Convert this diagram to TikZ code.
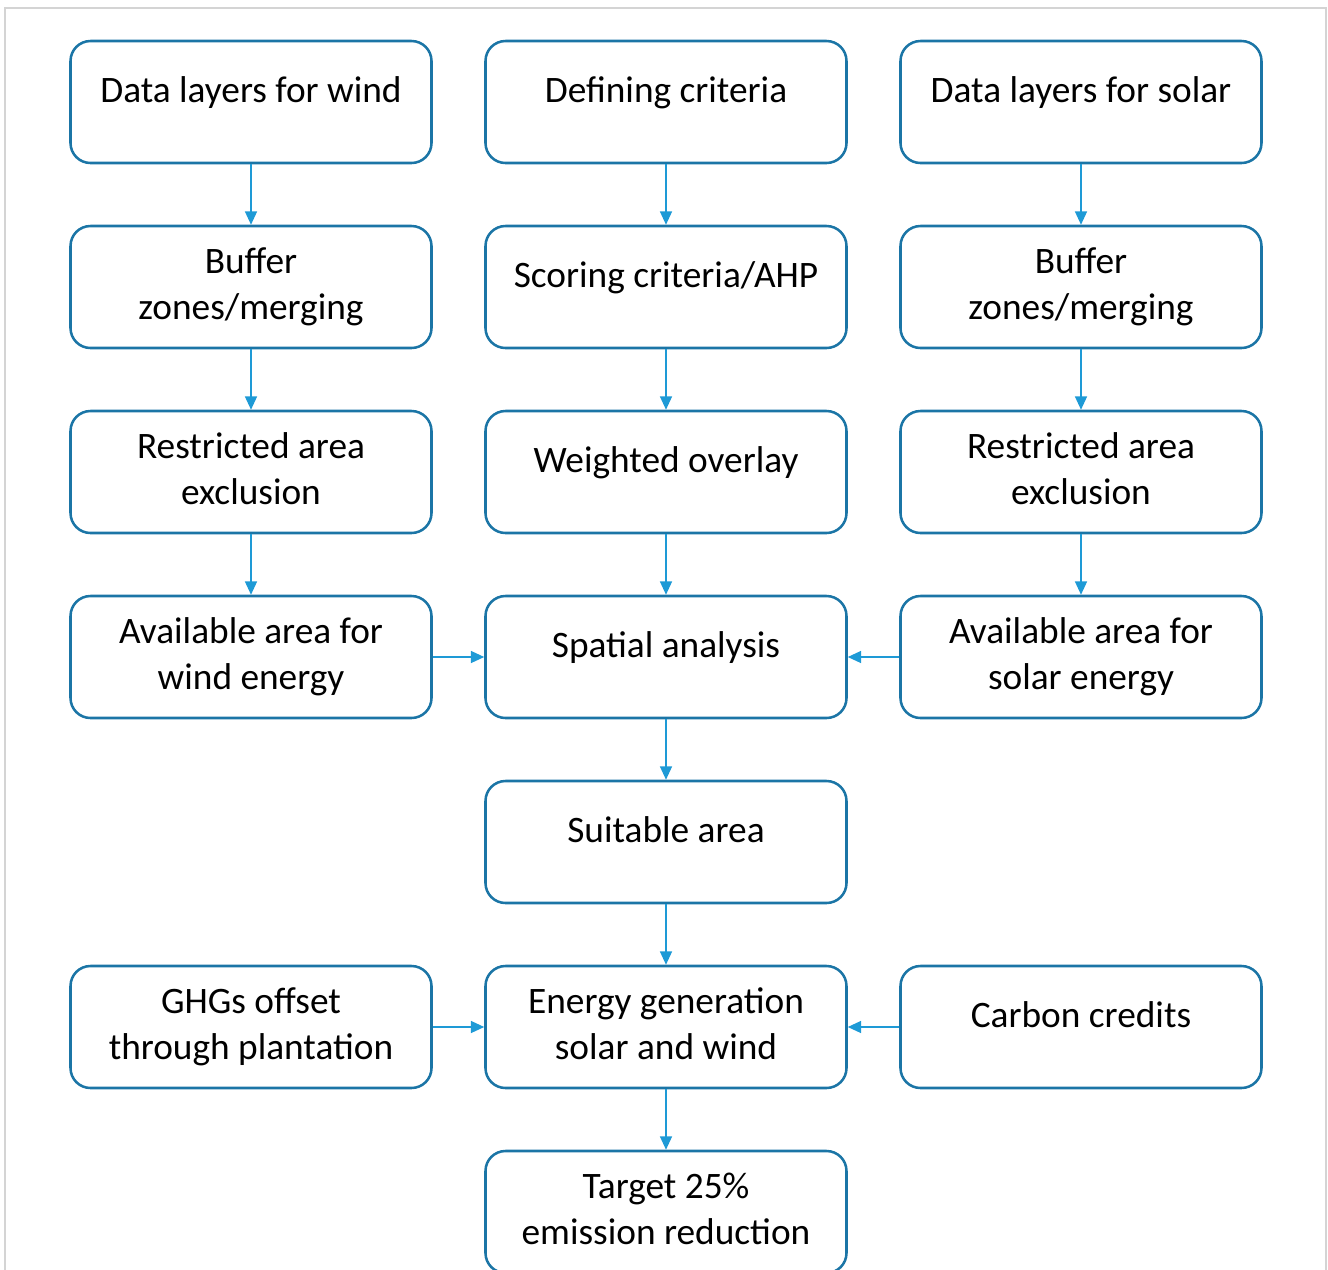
\documentclass[tikz,border=0pt]{standalone}
\usepackage{fontspec}
\setmainfont{Carlito}
\usetikzlibrary{matrix,arrows.meta}
\definecolor{boxblue}{HTML}{1B75A6}
\definecolor{linkblue}{HTML}{1E9AD6}
\definecolor{framegray}{HTML}{D4D4D4}
\newcommand{\twolines}[2]{\begin{tabular}{@{}c@{}}#1\\#2\end{tabular}}

\begin{document}
\begin{tikzpicture}[x=0.75pt,y=-0.75pt,
    stage/.style={draw=boxblue, line width=1.9pt, rounded corners=15pt,
      minimum width=270.75pt, minimum height=91.5pt, align=center,
      anchor=center, font=\fontsize{28}{34.5}\selectfont},
    oneline/.style={text height=19pt, text depth=19pt},
    link/.style={draw=linkblue, line width=1.1pt,
      -{Triangle[length=10pt,width=9pt]}}
  ]
    \useasboundingbox (0,0) rectangle (1328,1270);
    \clip (0,0) rectangle (1328,1270);
    \draw[framegray, line width=1.1pt] (5,8) rectangle (1326,1300);
    \matrix (flow) at (666,657) [%
      matrix of nodes,
      nodes={stage},
      column sep=38.6pt,
      row sep=45.35pt
    ] {%
      |[oneline]| Data layers for wind& |[oneline]| Defining criteria& |[oneline]| Data layers for solar\\
      \twolines{Buffer}{zones/merging}& |[oneline]| Scoring criteria/AHP& \twolines{Buffer}{zones/merging}\\
      \twolines{Restricted area}{exclusion}& |[oneline]| Weighted overlay& \twolines{Restricted area}{exclusion}\\
      \twolines{Available area for}{wind energy}& |[oneline]| Spatial analysis& \twolines{Available area for}{solar energy}\\
        & |[oneline]| Suitable area& \\
      \twolines{GHGs offset}{through plantation}& \twolines{Energy generation}{solar and wind}& |[oneline]| Carbon credits\\
        & \twolines{Target 25\%}{emission reduction}& \\
   };
    % down the three columns
    \foreach \c in {1,2,3}
      \foreach \a/\b in {1/2,2/3,3/4}
        \draw[link] (flow-\a-\c) -- (flow-\b-\c);
    \foreach \a/\b in {4/5,5/6,6/7}
      \draw[link] (flow-\a-2) -- (flow-\b-2);
    % side inputs
    \draw[link] (flow-4-1) -- (flow-4-2);
    \draw[link] (flow-4-3) -- (flow-4-2);
    \draw[link] (flow-6-1) -- (flow-6-2);
    \draw[link] (flow-6-3) -- (flow-6-2);
  \end{tikzpicture}
\end{document}
